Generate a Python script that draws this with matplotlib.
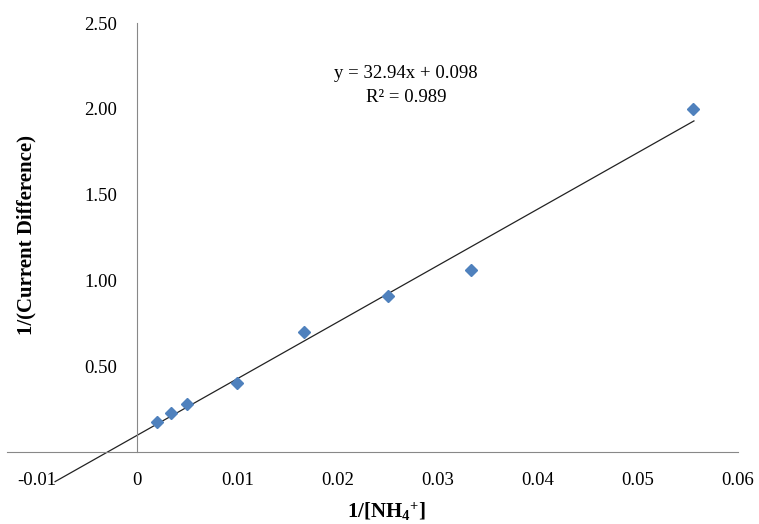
import numpy as np
import matplotlib.pyplot as plt

plt.rcParams['font.family'] = ['Liberation Serif', 'DejaVu Serif']
plt.rcParams['mathtext.fontset'] = 'custom'
plt.rcParams['mathtext.rm'] = 'Liberation Serif'
plt.rcParams['mathtext.bf'] = 'Liberation Serif:bold'
plt.rcParams['mathtext.default'] = 'bf'

# data: 1/[NH4+] vs 1/(current difference)
inv_nh4 = [1/500, 1/300, 1/200, 1/100, 1/60, 1/40, 1/30, 1/18]
inv_current = [0.175, 0.225, 0.28, 0.405, 0.70, 0.91, 1.06, 2.00]

slope, intercept = 32.94, 0.098
fit_x = [-0.0082, 0.0556]
x_ticks = [-0.01, 0, 0.01, 0.02, 0.03, 0.04, 0.05, 0.06]
x_ticklabels = ['-0.01', '0', '0.01', '0.02', '0.03', '0.04', '0.05', '0.06']
y_ticks = [0.5, 1.0, 1.5, 2.0, 2.5]

fig = plt.figure(figsize=(7.59, 5.24), dpi=100)
ax = fig.add_axes([7/759, 1 - 495/524, (738 - 7)/759, (495 - 23)/524])

fx = np.array(fit_x)
ax.plot(fx, slope * fx + intercept, color='#222222', lw=0.9, zorder=2)
ax.plot(inv_nh4, inv_current, 'D', color='#4F81BD', ms=6, mec='#4F81BD', zorder=3)

ax.set_xlim(-0.013, 0.06)
ax.set_ylim(-0.25, 2.5)

# Excel-style axes crossing at origin
for s in ['top', 'right']:
    ax.spines[s].set_visible(False)
ax.spines['left'].set_position(('data', 0))
ax.spines['left'].set_bounds(0, 2.5)
ax.spines['bottom'].set_position(('data', 0))
ax.spines['left'].set_color('#888888')
ax.spines['bottom'].set_color('#888888')

ax.set_xticks(x_ticks)
ax.set_xticklabels(x_ticklabels)
ax.set_yticks(y_ticks)
ax.set_yticklabels([f'{v:.2f}' for v in y_ticks])
ax.tick_params(axis='both', length=0, labelsize=13.5)
ax.tick_params(axis='y', pad=14.5)
ax.tick_params(axis='x', pad=14)

fig.text(26/759, 1 - 235/524, '1/(Current Difference)', rotation=90,
         ha='center', va='center', fontsize=15, fontweight='bold')
fig.text(386/759, 1 - 512/524, r'1/[NH$_4$$^{+}$]', ha='center', va='center',
         fontsize=15, fontweight='bold')

fig.text(406/759, 1 - 73/524, 'y = 32.94x + 0.098', ha='center', va='center',
         fontsize=13.5)
fig.text(406/759, 1 - 98/524, 'R² = 0.989', ha='center', va='center',
         fontsize=13.5)

fig.savefig('out.png', dpi=100)
